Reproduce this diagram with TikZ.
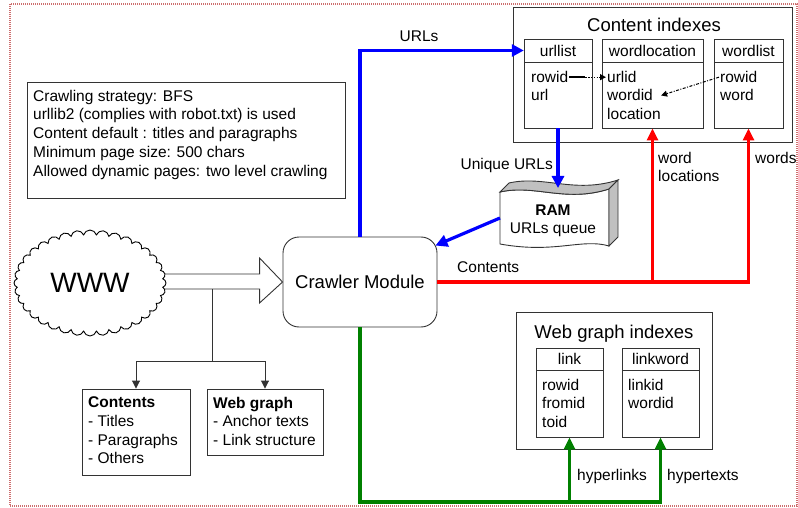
\documentclass[tikz,border=0pt]{standalone}
\usepackage{fontspec}
\setmainfont{Liberation Sans}
\usetikzlibrary{shapes.symbols,arrows.meta,calc}
\newcommand{\fsA}{\fontsize{15.5}{18.3}\selectfont}
\newcommand{\fsB}{\fontsize{15.5}{18.75}\selectfont}
\newcommand{\fsC}{\fontsize{15.5}{18.6}\selectfont}
\newcommand{\fsT}{\fontsize{18.5}{22}\selectfont}
\definecolor{frameRed}{RGB}{205,110,110}
\definecolor{dgreen}{RGB}{0,128,0}
\definecolor{ramgrey}{RGB}{192,192,192}
\begin{document}
\begin{tikzpicture}[x=1pt,y=-1pt,
  box/.style={draw=black!80, line width=0.9pt, inner sep=0pt},
  boxline/.style={draw=black!80, line width=0.9pt},
  txt/.style={inner sep=0pt, font=\fsA},
  rowtxt/.style={inner sep=1pt, font=\fsA, anchor=base west},
  mtxt/.style={inner sep=0pt, align=left, anchor=north west},
  bluearr/.style={draw=blue, line width=3.2pt, -{Triangle[length=12pt,width=12pt]}},
  redarr/.style={draw=red, line width=3.2pt, -{Triangle[length=12pt,width=11pt]}},
  greenarr/.style={draw=dgreen, line width=3.2pt, -{Triangle[length=12pt,width=11pt]}},
  blkarr/.style={draw=black!80, line width=0.9pt, -{Triangle[length=8pt,width=8pt]}},
  blkline/.style={draw=black!80, line width=0.9pt}
]
\useasboundingbox (0,0) rectangle (798,508);
\draw[frameRed, line width=1.2pt, dash pattern=on 1pt off 1pt] (10,4) rectangle (797,506);

% info box
\node[box, minimum width=318pt, minimum height=116pt] (info) at (186,140) {};
\node[mtxt, font=\fsB] (infot) at (33,89.7) {Crawling strategy: BFS\\urllib2 (complies with robot.txt) is used\\Content default : titles and paragraphs\\Minimum page size: 500 chars\\Allowed dynamic pages: two level crawling};

% crawler module
\node[box, rounded corners=16pt, minimum width=154pt, minimum height=90pt, font=\fsT] (crw) at (360,282) {Crawler Module};

% big hollow arrow
\draw[boxline, fill=white] ($(crw.west)+(-125,-8)$) -- ($(crw.west)+(-23,-8)$) -- ($(crw.west)+(-23,-24)$) -- (crw.west) -- ($(crw.west)+(-23,21)$) -- ($(crw.west)+(-23,7)$) -- ($(crw.west)+(-125,7)$);

% cloud
\node[cloud, draw=black, line width=0.9pt, fill=white, cloud puffs=36, cloud puff arc=150, cloud ignores aspect, minimum width=152pt, minimum height=106pt, inner sep=0pt, font=\fontsize{28}{28}\selectfont] (www) at (90,283) {WWW};

% branch to contents / web graph
\coordinate (split0) at (212,289);
\coordinate (split1) at (212,361);
\node[box, minimum width=108pt, minimum height=86pt] (cbox) at (136,432) {};
\node[box, minimum width=116pt, minimum height=66pt] (wbox) at (265,422) {};
\node[mtxt, font=\fsC] (cboxt) at (88,396.9) {\textbf{Contents}\\- Titles\\- Paragraphs\\- Others};
\node[mtxt, font=\fsC] (wboxt) at (213,396.9) {\textbf{Web graph}\\- Anchor texts\\- Link structure};
\draw[blkline] (split0) -- (split1);
\draw[blkarr] (split1) -| (cbox.north);
\draw[blkarr] (split1) -| (wbox.north);

% content indexes
\node[box, minimum width=279pt, minimum height=135pt] (cidx) at (652.5,74.5) {};
\node[inner sep=0pt, font=\fsT, anchor=base] (cidxT) at (654,31.6) {Content indexes};
\node[box, minimum width=68pt, minimum height=89pt] (urllist) at (558,83.5) {};
\node[txt, minimum width=68pt, minimum height=23pt] (urllistH) at (558,50.5) {urllist};
\draw[boxline] (urllistH.south west) -- (urllistH.south east);
\node[box, minimum width=101pt, minimum height=89pt] (wordlocation) at (652.5,83.5) {};
\node[txt, minimum width=101pt, minimum height=23pt] (wordlocationH) at (652.5,50.5) {wordlocation};
\draw[boxline] (wordlocationH.south west) -- (wordlocationH.south east);
\node[box, minimum width=69pt, minimum height=89pt] (wordlist) at (748.5,83.5) {};
\node[txt, minimum width=69pt, minimum height=23pt] (wordlistH) at (748.5,50.5) {wordlist};
\draw[boxline] (wordlistH.south west) -- (wordlistH.south east);
\node[rowtxt] (ur1) at (530,82.7) {rowid};
\node[rowtxt] (ur2) at (530,101) {url};
\node[rowtxt] (wl1) at (606,82.7) {urlid};
\node[rowtxt] (wl2) at (606,101) {wordid};
\node[rowtxt] (wl3) at (606,119.3) {location};
\node[rowtxt] (wd1) at (719,82.7) {rowid};
\node[rowtxt] (wd2) at (719,101) {word};
\draw[line width=1.8pt] (ur1.east) -- ($(ur1.east)+(16,0)$);
\draw[line width=1.3pt, dash pattern=on 1.3pt off 1.5pt, -{Triangle[length=6pt,width=6pt]}] ($(ur1.east)+(16,0)$) -- (wl1.west);
\draw[line width=1pt, dash pattern=on 3pt off 1.5pt on 1pt off 1.5pt, -{Triangle[length=6pt,width=6pt]}] (wd1.west) -- ([xshift=7pt]wl2.east);

% web graph indexes
\node[box, minimum width=196pt, minimum height=137pt] (widx) at (614,380.5) {};
\node[inner sep=0pt, font=\fsT, anchor=base] (widxT) at (614,338.6) {Web graph indexes};
\node[box, minimum width=67pt, minimum height=89pt] (link) at (569.5,392.5) {};
\node[txt, minimum width=67pt, minimum height=22pt] (linkH) at (569.5,359) {link};
\draw[boxline] (linkH.south west) -- (linkH.south east);
\node[box, minimum width=77pt, minimum height=89pt] (linkword) at (660.5,392.5) {};
\node[txt, minimum width=77pt, minimum height=22pt] (linkwordH) at (660.5,359) {linkword};
\draw[boxline] (linkwordH.south west) -- (linkwordH.south east);
\node[rowtxt] (lk1) at (541,390.5) {rowid};
\node[rowtxt] (lk2) at (541,408.8) {fromid};
\node[rowtxt] (lk3) at (541,427.1) {toid};
\node[rowtxt] (lw1) at (627,390.5) {linkid};
\node[rowtxt] (lw2) at (627,408.8) {wordid};

% RAM queue shape
\draw[boxline, fill=white] (500,192) .. controls (535,184) and (565,203) .. (609,189) -- (609,246) .. controls (582,238) and (555,254) .. (500,244) -- cycle;
\draw[boxline, fill=ramgrey] (500,192) .. controls (535,184) and (565,203) .. (609,189) -- (618,180) .. controls (574,194) and (544,175) .. (509,183) -- cycle;
\draw[boxline, fill=ramgrey] (609,189) -- (618,180) -- (618,237) -- (609,246) -- cycle;
\node[inner sep=0pt, align=center, font=\fsA] (ram) at (553,221) {\textbf{RAM}\\URLs queue};
\coordinate (ramTop) at (558,188);
\coordinate (ramL) at (500,218);

% blue connectors
\draw[bluearr] (crw.north) |- (urllistH.west);
\draw[bluearr] (urllist.south) -- (ramTop);
\draw[bluearr] (ramL) -- ($(crw.north east)+(-2,9)$);
\node[txt, anchor=base] (lURLs) at (419,42) {URLs};
\node[txt, anchor=base east] (lUnique) at (553,169.5) {Unique URLs};

% red connectors
\draw[redarr] (crw.east) -| (wordlist.south);
\draw[redarr] (wordlocation.south |- crw.east) -- (wordlocation.south);
\node[txt, anchor=base west] (lContents) at (457,272.5) {Contents};
\node[mtxt, font=\fontsize{15.5}{18}\selectfont] (lWordloc) at (658,152.2) {word\\locations};
\node[txt, anchor=base west] (lWords) at (755,163.5) {words};

% green connectors
\coordinate (gcorner) at (360,502);
\draw[greenarr] (crw.south) -- (gcorner) -| (linkword.south);
\draw[greenarr] (link.south |- gcorner) -- (link.south);
\node[txt, anchor=base west] (lHyperlinks) at (577,480.5) {hyperlinks};
\node[txt, anchor=base west] (lHypertexts) at (667,480.5) {hypertexts};
\end{tikzpicture}
\end{document}
